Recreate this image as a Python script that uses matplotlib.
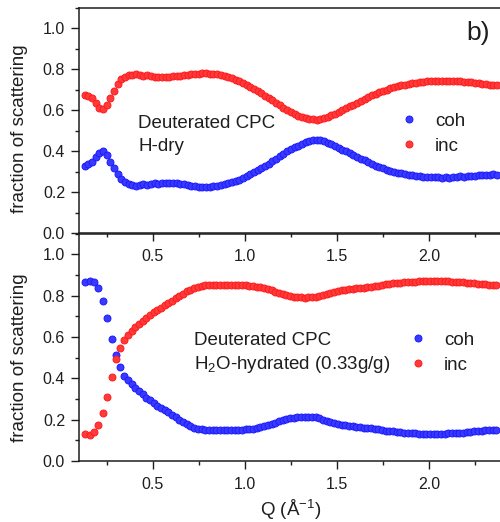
import matplotlib
matplotlib.use("Agg")
import matplotlib.pyplot as plt
from matplotlib.lines import Line2D
from matplotlib.ticker import MultipleLocator, FormatStrFormatter

plt.rcParams['font.family'] = ['Liberation Sans', 'DejaVu Sans']
plt.rcParams['mathtext.default'] = 'regular'

# ---------------- data: top panel (H-dry) ----------------
q_dry = [0.13, 0.15, 0.17, 0.19, 0.21, 0.23, 0.25, 0.27, 0.29, 0.31,
         0.33, 0.35, 0.37, 0.39, 0.41, 0.43, 0.45, 0.47, 0.49, 0.51,
         0.53, 0.55, 0.57, 0.59, 0.61, 0.63, 0.65, 0.67, 0.69, 0.71,
         0.73, 0.75, 0.77, 0.79, 0.81, 0.83, 0.85, 0.87, 0.89, 0.91,
         0.93, 0.95, 0.97, 0.99, 1.01, 1.03, 1.05, 1.07, 1.09, 1.11,
         1.13, 1.15, 1.17, 1.19, 1.21, 1.23, 1.25, 1.27, 1.29, 1.31,
         1.33, 1.35, 1.37, 1.39, 1.41, 1.43, 1.45, 1.47, 1.49, 1.51,
         1.53, 1.55, 1.57, 1.59, 1.61, 1.63, 1.65, 1.67, 1.69, 1.71,
         1.73, 1.75, 1.77, 1.79, 1.81, 1.83, 1.85, 1.87, 1.89, 1.91,
         1.93, 1.95, 1.97, 1.99, 2.01, 2.03, 2.05, 2.07, 2.09, 2.11,
         2.13, 2.15, 2.17, 2.19, 2.21, 2.23, 2.25, 2.27, 2.29, 2.31,
         2.33, 2.35, 2.37]
coh_dry = [0.330, 0.336, 0.350, 0.372, 0.392, 0.400, 0.382, 0.350, 0.318, 0.288,
           0.265, 0.249, 0.240, 0.235, 0.233, 0.236, 0.240, 0.236, 0.239, 0.243,
           0.241, 0.243, 0.245, 0.244, 0.243, 0.245, 0.242, 0.238, 0.236, 0.232,
           0.229, 0.227, 0.225, 0.226, 0.228, 0.231, 0.233, 0.236, 0.240, 0.244,
           0.249, 0.255, 0.262, 0.270, 0.278, 0.287, 0.297, 0.307, 0.318, 0.329,
           0.340, 0.352, 0.364, 0.376, 0.388, 0.399, 0.409, 0.419, 0.428, 0.436,
           0.444, 0.450, 0.455, 0.457, 0.454, 0.448, 0.441, 0.433, 0.424, 0.416,
           0.408, 0.400, 0.391, 0.382, 0.373, 0.364, 0.355, 0.346, 0.338, 0.330,
           0.323, 0.316, 0.310, 0.305, 0.300, 0.296, 0.292, 0.289, 0.286, 0.283,
           0.280, 0.278, 0.276, 0.275, 0.274, 0.273, 0.273, 0.272, 0.273, 0.272,
           0.274, 0.275, 0.277, 0.276, 0.278, 0.280, 0.281, 0.283, 0.284, 0.286,
           0.285, 0.287, 0.286]
inc_dry = [0.672, 0.668, 0.660, 0.635, 0.612, 0.604, 0.625, 0.660, 0.695, 0.727,
           0.750, 0.764, 0.771, 0.774, 0.776, 0.771, 0.768, 0.772, 0.766, 0.763,
           0.764, 0.762, 0.761, 0.763, 0.766, 0.765, 0.769, 0.772, 0.774, 0.778,
           0.776, 0.779, 0.781, 0.780, 0.778, 0.777, 0.775, 0.771, 0.766, 0.761,
           0.755, 0.749, 0.741, 0.732, 0.723, 0.714, 0.704, 0.693, 0.682, 0.671,
           0.660, 0.648, 0.636, 0.624, 0.612, 0.601, 0.591, 0.582, 0.574, 0.567,
           0.561, 0.557, 0.555, 0.554, 0.556, 0.561, 0.567, 0.575, 0.584, 0.593,
           0.601, 0.610, 0.619, 0.628, 0.637, 0.646, 0.655, 0.664, 0.673, 0.681,
           0.688, 0.695, 0.701, 0.707, 0.712, 0.717, 0.721, 0.725, 0.728, 0.731,
           0.734, 0.737, 0.739, 0.741, 0.742, 0.743, 0.744, 0.745, 0.744, 0.745,
           0.743, 0.742, 0.741, 0.740, 0.738, 0.737, 0.735, 0.732, 0.729, 0.726,
           0.724, 0.725, 0.721]

# ---------------- data: bottom panel (H2O-hydrated) ----------------
q_hyd = [0.133, 0.157, 0.181, 0.205, 0.229, 0.253, 0.277, 0.299, 0.320, 0.344,
         0.365, 0.385, 0.405, 0.425, 0.445, 0.465, 0.485, 0.505, 0.525, 0.545,
         0.565, 0.585, 0.605, 0.625, 0.645, 0.665, 0.685, 0.705, 0.725, 0.745,
         0.765, 0.785, 0.805, 0.825, 0.845, 0.865, 0.885, 0.905, 0.925, 0.945,
         0.965, 0.985, 1.005, 1.025, 1.045, 1.065, 1.085, 1.105, 1.125, 1.145,
         1.165, 1.185, 1.205, 1.225, 1.245, 1.265, 1.285, 1.305, 1.325, 1.345,
         1.365, 1.385, 1.405, 1.425, 1.445, 1.465, 1.485, 1.505, 1.525, 1.545,
         1.565, 1.585, 1.605, 1.625, 1.645, 1.665, 1.685, 1.705, 1.725, 1.745,
         1.765, 1.785, 1.805, 1.825, 1.845, 1.865, 1.885, 1.905, 1.925, 1.945,
         1.965, 1.985, 2.005, 2.025, 2.045, 2.065, 2.085, 2.105, 2.125, 2.145,
         2.165, 2.185, 2.205, 2.225, 2.245, 2.265, 2.285, 2.305, 2.325, 2.345,
         2.365]
coh_hyd = [0.866, 0.872, 0.866, 0.836, 0.772, 0.690, 0.590, 0.512, 0.456, 0.412,
           0.392, 0.372, 0.355, 0.338, 0.322, 0.307, 0.293, 0.280, 0.268, 0.257,
           0.246, 0.235, 0.224, 0.212, 0.200, 0.189, 0.178, 0.169, 0.162, 0.157,
           0.154, 0.152, 0.151, 0.150, 0.149, 0.150, 0.149, 0.150, 0.149, 0.150,
           0.151, 0.152, 0.153, 0.155, 0.157, 0.160, 0.163, 0.167, 0.172, 0.178,
           0.185, 0.192, 0.198, 0.203, 0.207, 0.210, 0.212, 0.213, 0.214, 0.213,
           0.212, 0.211, 0.206, 0.200, 0.194, 0.188, 0.182, 0.178, 0.175, 0.172,
           0.169, 0.167, 0.165, 0.163, 0.161, 0.159, 0.158, 0.156, 0.154, 0.149,
           0.146, 0.145, 0.143, 0.141, 0.139, 0.137, 0.136, 0.135, 0.134, 0.133,
           0.132, 0.131, 0.131, 0.131, 0.132, 0.132, 0.133, 0.134, 0.134, 0.135,
           0.136, 0.137, 0.139, 0.141, 0.143, 0.145, 0.147, 0.148, 0.150, 0.151,
           0.149]
inc_hyd = [0.132, 0.127, 0.140, 0.172, 0.233, 0.311, 0.408, 0.495, 0.545, 0.585,
           0.610, 0.630, 0.648, 0.664, 0.679, 0.694, 0.707, 0.719, 0.731, 0.742,
           0.753, 0.764, 0.775, 0.787, 0.799, 0.810, 0.820, 0.829, 0.836, 0.842,
           0.846, 0.849, 0.851, 0.852, 0.853, 0.852, 0.853, 0.852, 0.853, 0.852,
           0.851, 0.850, 0.849, 0.848, 0.846, 0.843, 0.840, 0.836, 0.831, 0.825,
           0.818, 0.811, 0.806, 0.801, 0.797, 0.794, 0.792, 0.791, 0.790, 0.791,
           0.792, 0.793, 0.797, 0.802, 0.808, 0.813, 0.818, 0.822, 0.825, 0.828,
           0.831, 0.833, 0.835, 0.837, 0.839, 0.841, 0.843, 0.845, 0.848, 0.853,
           0.856, 0.857, 0.859, 0.861, 0.863, 0.865, 0.866, 0.867, 0.868, 0.869,
           0.870, 0.871, 0.871, 0.872, 0.871, 0.871, 0.870, 0.869, 0.868, 0.867,
           0.866, 0.865, 0.863, 0.861, 0.859, 0.857, 0.855, 0.854, 0.852, 0.851,
           0.853]

series_labels = ["coh", "inc"]
x_ticks = [0.5, 1.0, 1.5, 2.0]
y_ticks = [0.0, 0.2, 0.4, 0.6, 0.8, 1.0]

BLUE_FACE, BLUE_EDGE = "#3a3aff", "#1a1aff"
RED_FACE, RED_EDGE = "#ff3a3a", "#ff1a1a"
INK = "#1e1e1e"

W, H = 500, 522
fig = plt.figure(figsize=(W / 100, H / 100), dpi=100)

left = 79 / W
width = 423.7 / W
ax_top = fig.add_axes([left, (H - 233.3) / H, width, 225.6 / H])
ax_bot = fig.add_axes([left, (H - 461.0) / H, width, 227.4 / H])
ax_top.set_zorder(3)
for ax in (ax_top, ax_bot):
    ax.patch.set_alpha(0)

mk = dict(ls="none", marker="o", ms=5.0, mew=0.7)

def style(ax):
    ax.set_xlim(0.1, 2.4)
    ax.set_ylim(0.0, 1.1)
    ax.set_xticks(x_ticks)
    ax.set_yticks(y_ticks)
    ax.xaxis.set_minor_locator(MultipleLocator(0.25))
    ax.yaxis.set_minor_locator(MultipleLocator(0.1))
    ax.tick_params(axis="both", which="major", direction="out", length=5.5,
                   width=1.0, labelsize=11.5, colors=INK)
    ax.tick_params(axis="x", which="major", pad=6.0)
    ax.tick_params(axis="y", which="major", pad=4.5)
    ax.tick_params(axis="both", which="minor", direction="out", length=3,
                   width=1.0, colors=INK)
    ax.xaxis.set_major_formatter(FormatStrFormatter("%.1f"))
    ax.yaxis.set_major_formatter(FormatStrFormatter("%.1f"))
    for s in ax.spines.values():
        s.set_linewidth(1.1)
        s.set_color(INK)
    ax.set_ylabel("fraction of scattering", fontsize=13.5, color=INK)

for ax, q, coh, inc in ((ax_top, q_dry, coh_dry, inc_dry),
                        (ax_bot, q_hyd, coh_hyd, inc_hyd)):
    ax.plot(q, coh, mfc=BLUE_FACE, mec=BLUE_EDGE, **mk)
    ax.plot(q, inc, mfc=RED_FACE, mec=RED_EDGE, **mk)
    style(ax)

ax_top.yaxis.set_label_coords(-0.12, 0.465)
ax_bot.yaxis.set_label_coords(-0.12, 0.455)

handles = [Line2D([], [], mfc=BLUE_FACE, mec=BLUE_EDGE, **mk),
           Line2D([], [], mfc=RED_FACE, mec=RED_EDGE, **mk)]

leg_kw = dict(loc="center left", frameon=False, fontsize=13.5,
              handlelength=1.0, handletextpad=0.9, borderpad=0,
              borderaxespad=0, labelspacing=0.42, labelcolor=INK)
ax_top.legend(handles, series_labels, bbox_to_anchor=(0.756, 0.442), **leg_kw)
ax_bot.legend(handles, series_labels, bbox_to_anchor=(0.777, 0.475), **leg_kw)

ax_top.text(0.140, 0.468, "Deuterated CPC", fontsize=13.5, color=INK,
            va="baseline", ha="left", transform=ax_top.transAxes)
ax_top.text(0.140, 0.366, "H-dry", fontsize=13.5, color=INK,
            va="baseline", ha="left", transform=ax_top.transAxes)
ax_bot.text(0.271, 0.510, "Deuterated CPC", fontsize=13.5, color=INK,
            va="baseline", ha="left", transform=ax_bot.transAxes)
ax_bot.text(0.271, 0.4046, "H$_2$O-hydrated (0.33g/g)", fontsize=13.5,
            color=INK, va="baseline", ha="left", transform=ax_bot.transAxes)
ax_top.text(0.942, 0.888, "b)", fontsize=19, color=INK,
            va="center", ha="center", transform=ax_top.transAxes)

ax_bot.set_xlabel("Q (Å$^{-1}$)", fontsize=13.5, color=INK, labelpad=4)

fig.savefig("out.png", dpi=100)
